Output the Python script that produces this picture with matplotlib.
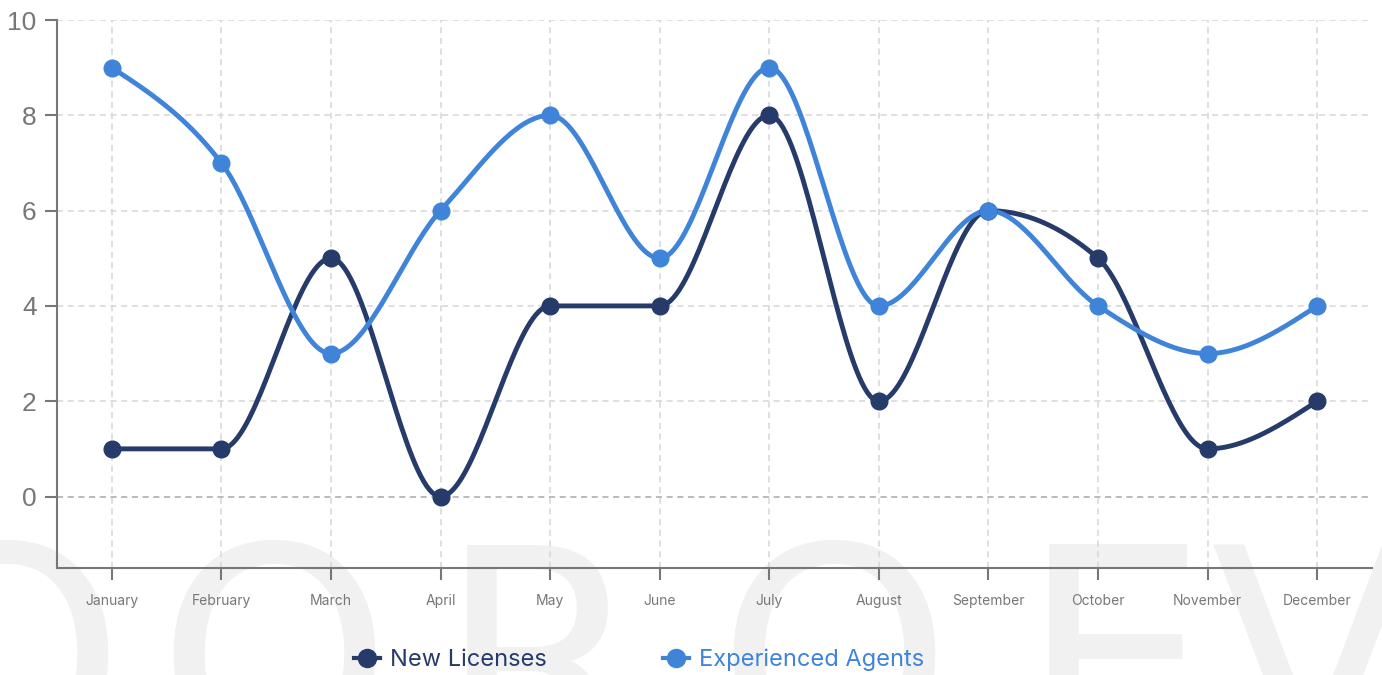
import numpy as np
import matplotlib
matplotlib.use("Agg")
import matplotlib.pyplot as plt
from matplotlib.lines import Line2D

MONTHS = ["January", "February", "March", "April", "May", "June", "July",
          "August", "September", "October", "November", "December"]
NEW_LICENSES = [1, 1, 5, 0, 4, 4, 8, 2, 6, 5, 1, 2]
EXPERIENCED = [9, 7, 3, 6, 8, 5, 9, 4, 6, 4, 3, 4]
Y_TICKS = [0, 2, 4, 6, 8, 10]

NAVY = "#263b6a"
BLUE = "#3f84d9"
AXIS = "#777777"


def monotone_x(x, y, n=40):
    """Monotone cubic interpolation (same rule as d3.curveMonotoneX)."""
    x = np.asarray(x, float)
    y = np.asarray(y, float)
    h = np.diff(x)
    s = np.diff(y) / h
    t = np.zeros_like(y)
    for i in range(1, len(y) - 1):
        s0, s1 = s[i - 1], s[i]
        p = (s0 * h[i] + s1 * h[i - 1]) / (h[i - 1] + h[i])
        t[i] = (np.sign(s0) + np.sign(s1)) * min(abs(s0), abs(s1), 0.5 * abs(p))
    t[0] = (3 * s[0] - t[1]) / 2
    t[-1] = (3 * s[-1] - t[-2]) / 2
    xs, ys = [], []
    for i in range(len(y) - 1):
        u = np.linspace(0, 1, n)
        h00 = 2 * u**3 - 3 * u**2 + 1
        h10 = u**3 - 2 * u**2 + u
        h01 = -2 * u**3 + 3 * u**2
        h11 = u**3 - u**2
        xs.append(x[i] + u * h[i])
        ys.append(h00 * y[i] + h10 * h[i] * t[i] + h01 * y[i + 1] + h11 * h[i] * t[i + 1])
    return np.concatenate(xs), np.concatenate(ys)


fig = plt.figure(figsize=(13.82, 6.75), dpi=100)

# faint watermark lettering in a background axes, behind everything
bg = fig.add_axes([0, 0, 1, 1], zorder=-5)
bg.set_axis_off()
bg.set_xlim(0, 1)
bg.set_ylim(0, 1)
for ch, xf in [("O", 0.005), ("O", 0.198), ("R", 0.392), ("O", 0.603), ("E", 0.806), ("V", 0.950)]:
    bg.text(xf, -0.13, ch, fontsize=215, color="#f1f1f1", family="DejaVu Sans",
            ha="center", va="baseline", clip_on=False)

ax = fig.add_axes([0.04124, 0.15852, 0.95152, 0.81185], zorder=1)
ax.patch.set_alpha(0)

x = np.arange(len(MONTHS))
for vals, color in [(NEW_LICENSES, NAVY), (EXPERIENCED, BLUE)]:
    sx, sy = monotone_x(x, vals)
    ax.plot(sx, sy, color=color, linewidth=3.5, solid_capstyle="round", zorder=3)
    ax.plot(x, vals, linestyle="none", marker="o", markersize=12,
            color=color, zorder=4)

ax.set_xlim(-0.5, len(MONTHS) - 0.5)
ax.set_ylim(-1.5, 10)
ax.set_xticks(x)
ax.set_xticklabels(MONTHS, fontsize=10, color=AXIS, family="Inter")
ax.set_yticks(Y_TICKS)
ax.set_yticklabels([str(v) for v in Y_TICKS], fontsize=19, color=AXIS,
                   family="Liberation Sans")
ax.tick_params(axis="both", length=8.6, width=1.5, color=AXIS)
ax.tick_params(axis="x", pad=10)
ax.tick_params(axis="y", pad=6)

for side in ["top", "right"]:
    ax.spines[side].set_visible(False)
for side in ["left", "bottom"]:
    ax.spines[side].set_color(AXIS)
    ax.spines[side].set_linewidth(1.5)

for xv in x:
    ax.axvline(xv, color="#d6d6d6", linewidth=1.1, linestyle=(0, (4, 3)), zorder=1)
for yv in Y_TICKS:
    c = "#a8a8a8" if yv == 0 else "#d6d6d6"
    ax.axhline(yv, color=c, linewidth=1.1, linestyle=(0, (4, 3)), zorder=1)

handles = [
    Line2D([], [], color=NAVY, linewidth=3, marker="o", markersize=13),
    Line2D([], [], color=BLUE, linewidth=3, marker="o", markersize=13),
]
leg = fig.legend(handles, ["New Licenses", "Experienced Agents"], loc="center",
                 bbox_to_anchor=(0.4625, 0.022), ncol=2, frameon=False,
                 handlelength=1.1, handletextpad=0.45, columnspacing=4.9,
                 prop={"family": "Inter", "size": 17})
for txt, color in zip(leg.get_texts(), [NAVY, BLUE]):
    txt.set_color(color)

fig.savefig("out.png", dpi=100)
